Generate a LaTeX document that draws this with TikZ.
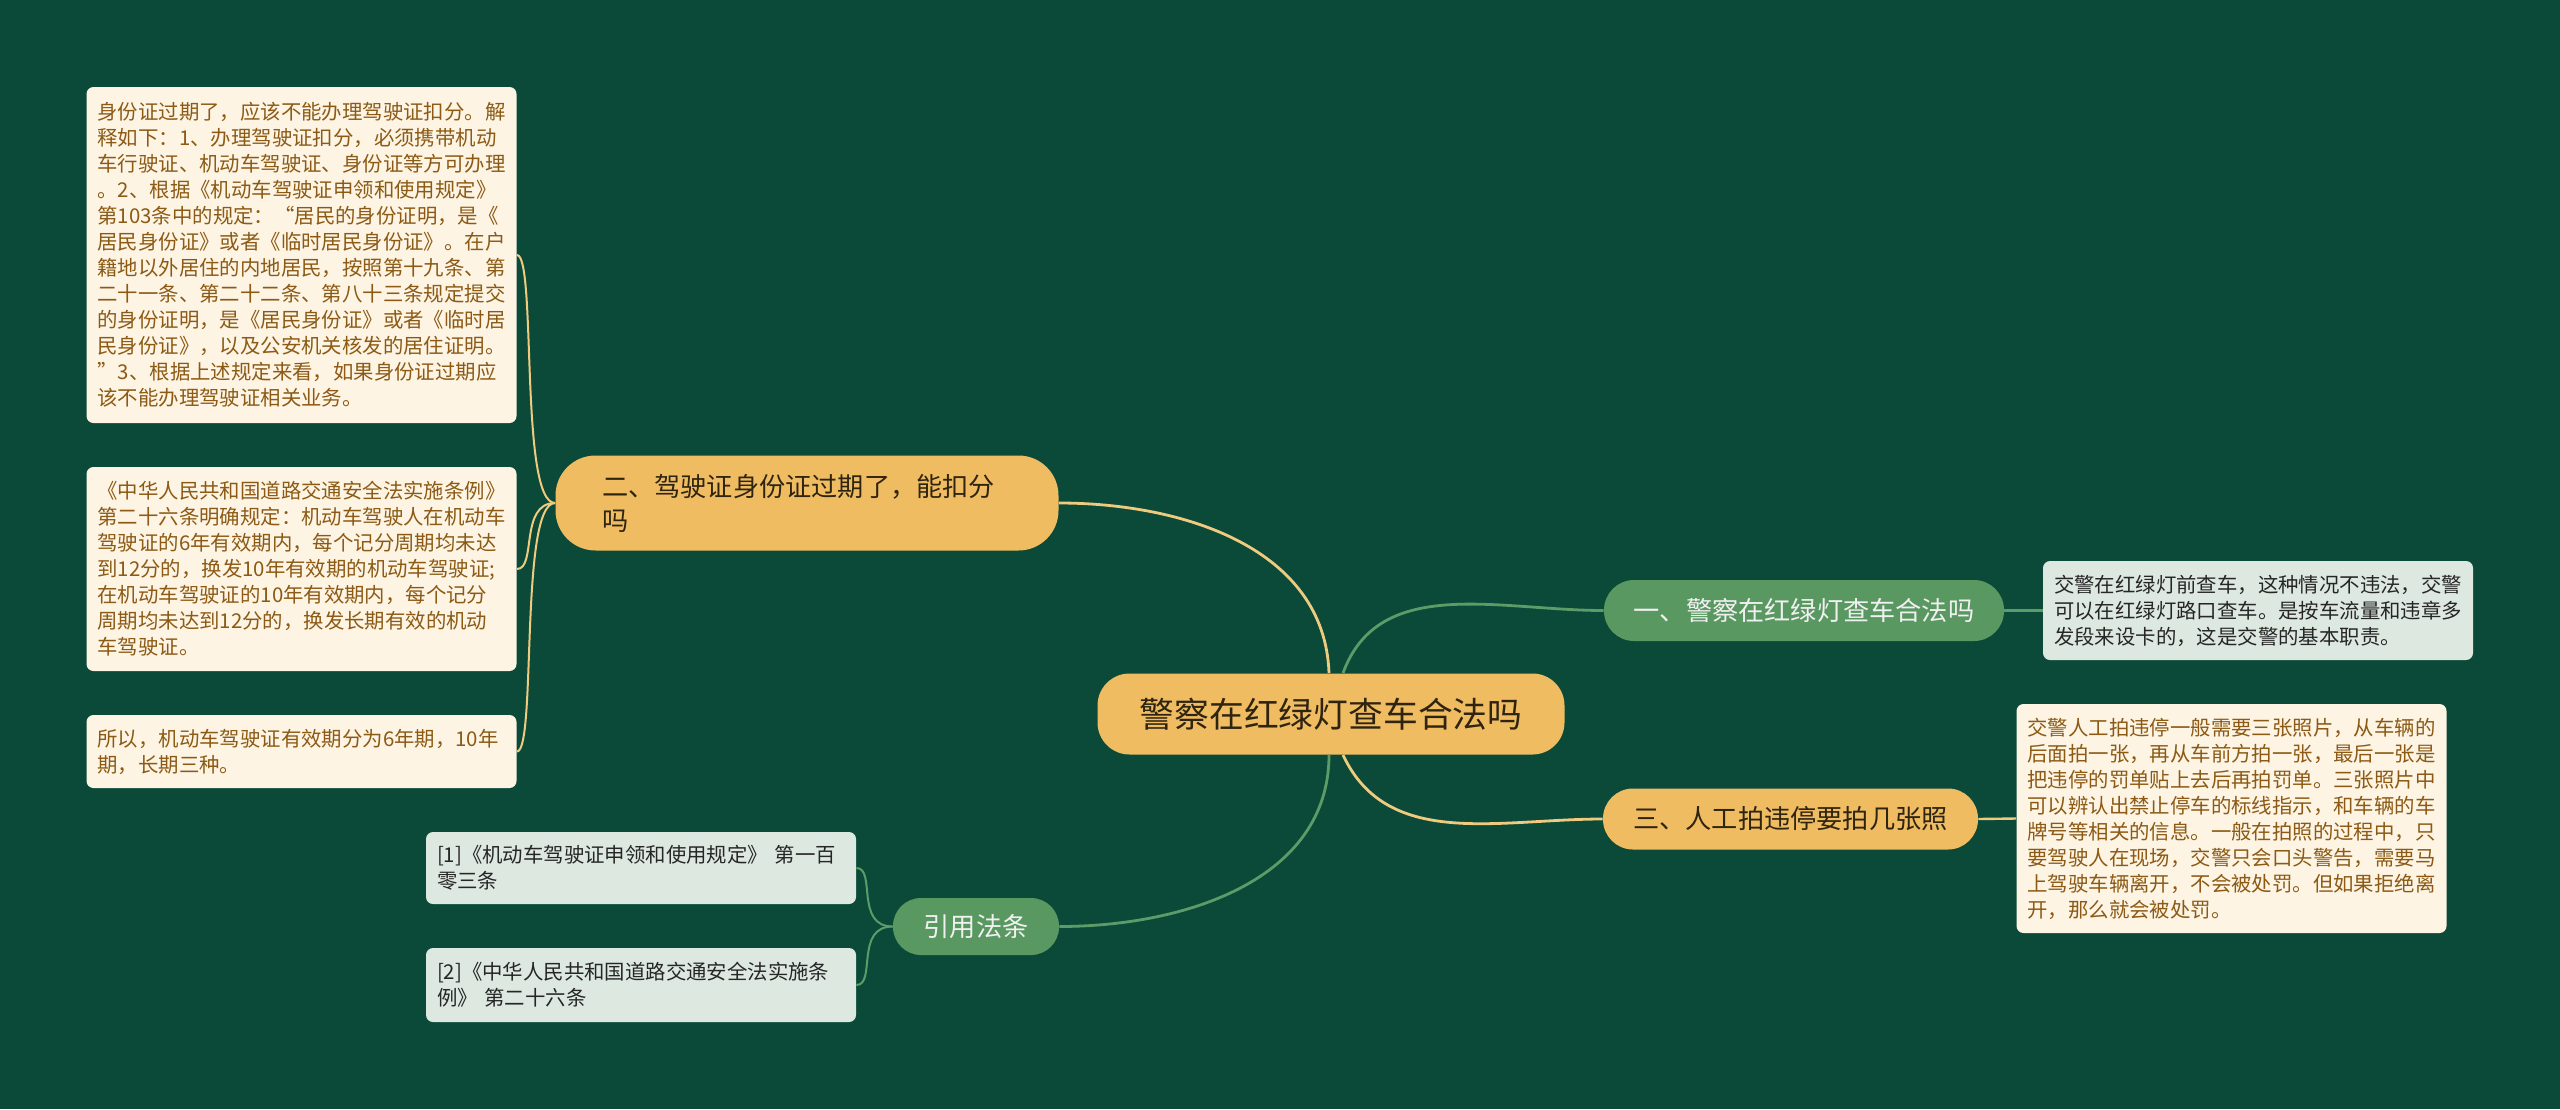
\documentclass[tikz,border=0pt]{standalone}
\usepackage{fontspec}
\usepackage{xcolor}
\usepackage{tikz}
\setmainfont{Noto Sans CJK SC}

\definecolor{bgdark}{HTML}{0B4A39}
\definecolor{mapyellow}{HTML}{F0BC62}
\definecolor{mapgreen}{HTML}{5A9862}
\definecolor{lineyellow}{HTML}{EFCB80}
\definecolor{linegreen}{HTML}{5C9C68}
\definecolor{creambox}{HTML}{FDF4E4}
\definecolor{greybox}{HTML}{DDE8E0}
\definecolor{browntext}{HTML}{8C5A14}
\definecolor{darktext}{HTML}{262626}
\definecolor{rootink}{HTML}{2E2410}

\begin{document}
\begin{tikzpicture}[x=0.5pt, y=-0.5pt,
    every node/.style={inner ysep=0pt},
    rootnode/.style={fill=mapyellow, rounded corners=16pt, text=rootink, align=center,
        minimum width=233.5pt, minimum height=40.5pt, font=\fontsize{17.4}{21}\selectfont},
    yellowtopic/.style={fill=mapyellow, rounded corners=15pt, text=rootink, align=center,
        minimum height=30.5pt, font=\fontsize{13.1}{17}\selectfont},
    greentopic/.style={fill=mapgreen, rounded corners=15pt, text=white!94!black, align=center,
        minimum height=30.5pt, font=\fontsize{13.1}{17}\selectfont},
    creamnote/.style={fill=creambox, rounded corners=3.5pt, text=browntext, align=left,
        text width=204pt, inner xsep=5.5pt, font=\fontsize{10.2}{13}\selectfont},
    greynote/.style={fill=greybox, rounded corners=3.5pt, text=darktext, align=left,
        text width=204pt, inner xsep=5.5pt, font=\fontsize{10.2}{13}\selectfont},
    yline/.style={draw=lineyellow, line width=1.4pt},
    gline/.style={draw=linegreen, line width=1.4pt}]

\fill[bgdark] (0,0) rectangle (2560,1109);

% centre and topics
\node (root) at (1331,714) [rootnode] {警察在红绿灯查车合法吗};
\node (t2) at (807,503) [yellowtopic, align=left, text width=205pt, inner xsep=23.25pt,
    minimum height=47.5pt, rounded corners=20pt] {二、驾驶证身份证过期了，能扣分\\吗};
\node (t1) at (1804,610.5) [greentopic, minimum width=200pt] {一、警察在红绿灯查车合法吗};
\node (t3) at (1790.5,819) [yellowtopic, minimum width=187.5pt] {三、人工拍违停要拍几张照};
\node (law) at (976,926.5) [greentopic, minimum width=83pt, minimum height=28.5pt, rounded corners=14pt] {引用法条};

% notes on the left
\node (n1) at (301.5,255) [creamnote, minimum height=168pt] {身份证过期了，应该不能办理驾驶证扣分。解\\释如下：1、办理驾驶证扣分，必须携带机动\\车行驶证、机动车驾驶证、身份证等方可办理\\。2、根据《机动车驾驶证申领和使用规定》\\第103条中的规定：“居民的身份证明，是《\\居民身份证》或者《临时居民身份证》。在户\\籍地以外居住的内地居民，按照第十九条、第\\二十一条、第二十二条、第八十三条规定提交\\的身份证明，是《居民身份证》或者《临时居\\民身份证》，以及公安机关核发的居住证明。\\”3、根据上述规定来看，如果身份证过期应\\该不能办理驾驶证相关业务。};
\node (n2) at (301.5,569) [creamnote, minimum height=102pt] {《中华人民共和国道路交通安全法实施条例》\\第二十六条明确规定：机动车驾驶人在机动车\\驾驶证的6年有效期内，每个记分周期均未达\\到12分的，换发10年有效期的机动车驾驶证;\\在机动车驾驶证的10年有效期内，每个记分\\周期均未达到12分的，换发长期有效的机动\\车驾驶证。};
\node (n3) at (301.5,751.5) [creamnote, minimum height=36.5pt] {所以，机动车驾驶证有效期分为6年期，10年\\期，长期三种。};

% notes on the right
\node (a1) at (2258,610.5) [greynote, minimum height=49.5pt] {交警在红绿灯前查车，这种情况不违法，交警\\可以在红绿灯路口查车。是按车流量和违章多\\发段来设卡的，这是交警的基本职责。};
\node (a3) at (2231.5,818.5) [creamnote, minimum height=114.5pt] {交警人工拍违停一般需要三张照片，从车辆的\\后面拍一张，再从车前方拍一张，最后一张是\\把违停的罚单贴上去后再拍罚单。三张照片中\\可以辨认出禁止停车的标线指示，和车辆的车\\牌号等相关的信息。一般在拍照的过程中，只\\要驾驶人在现场，交警只会口头警告，需要马\\上驾驶车辆离开，不会被处罚。但如果拒绝离\\开，那么就会被处罚。};

% citations
\node (c1) at (641,868) [greynote, minimum height=36pt] {[1]《机动车驾驶证申领和使用规定》 第一百\\零三条};
\node (c2) at (641,985) [greynote, minimum height=37pt] {[2]《中华人民共和国道路交通安全法实施条\\例》 第二十六条};

% branches
\draw[yline] ([xshift=-1pt]root.north) to[out=92,in=0] (t2.east);
\draw[gline] ([xshift=6pt]root.north) to[out=70,in=180] (t1.west);
\draw[yline] ([xshift=6pt]root.south) to[out=-65,in=180] (t3.west);
\draw[gline] ([xshift=-1pt]root.south) to[out=-90,in=0] (law.east);

\draw[gline, line width=1.2pt] (t1.east) -- (a1.west);
\draw[yline, line width=1.2pt] (t3.east) -- (a3.west);

\foreach \n in {n1,n2,n3}
  \draw[yline, line width=1pt] (t2.west) .. controls +(-36,0) and +(20,0) .. (\n.east);
\foreach \c in {c1,c2}
  \draw[gline, line width=1pt] (law.west) .. controls +(-38,0) and +(20,0) .. (\c.east);

\end{tikzpicture}
\end{document}
